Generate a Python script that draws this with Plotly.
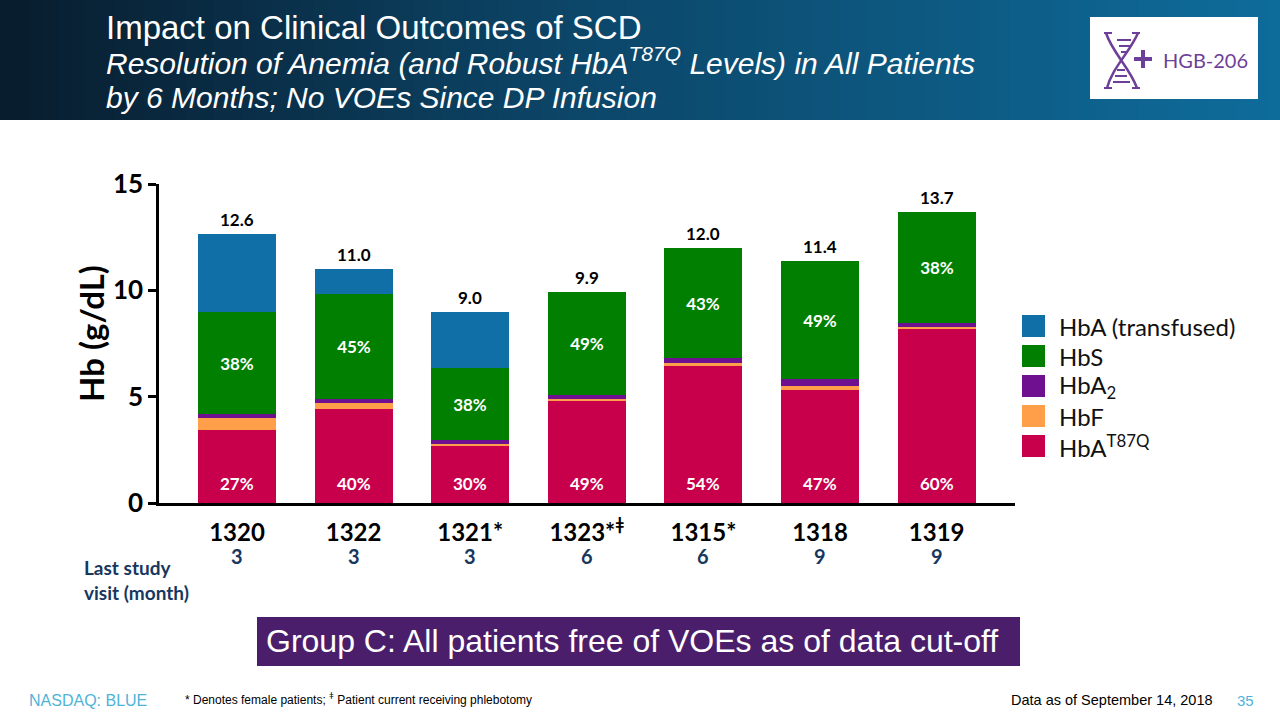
import plotly.graph_objects as go

# ---------------- data ----------------
patients = ["1320", "1322", "1321*", "1323*<sup>ǂ</sup>", "1315*", "1318", "1319"]
last_visit_month = ["3", "3", "3", "6", "6", "9", "9"]
totals = ["12.6", "11.0", "9.0", "9.9", "12.0", "11.4", "13.7"]

hba_t87q = [3.45, 4.40, 2.70, 4.84, 6.44, 5.30, 8.22]
hbf = [0.55, 0.30, 0.08, 0.07, 0.16, 0.22, 0.04]
hba2 = [0.20, 0.17, 0.16, 0.16, 0.22, 0.30, 0.22]
hbs = [4.80, 4.95, 3.42, 4.83, 5.18, 5.58, 5.22]
hba_transfused = [3.65, 1.18, 2.64, 0, 0, 0, 0]

pct_t87q = ["27%", "40%", "30%", "49%", "54%", "47%", "60%"]
pct_hbs = ["38%", "45%", "38%", "49%", "43%", "49%", "38%"]

series_names = ["HbA<sup>T87Q</sup>", "HbF", "HbA<sub>2</sub>", "HbS", "HbA (transfused)"]
series_values = [hba_t87q, hbf, hba2, hbs, hba_transfused]
series_colors = ["#C8004B", "#FF9F4A", "#6E108F", "#007F00", "#0F6FA6"]

# ---------------- geometry helpers ----------------
W, H = 1280, 720
L, R, T, B = 159, 1015, 184, 503


def px(x):
    return (x - L) / (R - L)


def py(y):
    return (B - y) / (B - T)


SANS = "Liberation Sans, Arial, sans-serif"
CAL = "Lato, Open Sans, sans-serif"

fig = go.Figure()
xs = list(range(len(patients)))

for name, vals, col in zip(series_names, series_values, series_colors):
    kw = {}
    if name == "HbS":
        kw = dict(text=pct_hbs, textposition="inside", insidetextanchor="middle",
                  textfont=dict(color="white", size=17, family=CAL, weight="bold"))
    fig.add_trace(go.Bar(x=xs, y=vals, name=name, marker=dict(color=col, line=dict(width=0)),
                         width=0.67, showlegend=False, hoverinfo="y+name", **kw))

shapes = []
ann = []


def note(x, y, text, size, color, family=CAL, xanchor="left", weight="normal", **kw):
    ann.append(dict(x=x, y=y, xref=kw.pop("xref", "paper"), yref=kw.pop("yref", "paper"),
                    text=text, showarrow=False, xanchor=xanchor, yanchor=kw.pop("yanchor", "middle"),
                    font=dict(size=size, color=color, family=family, weight=weight), **kw))


# T87Q percent labels near bar base
for i, p in enumerate(pct_t87q):
    note(i, 0, p, 17, "white", xanchor="center", weight="bold", xref="x", yref="y", yshift=20)

# totals above bars
for i, t in enumerate(totals):
    tot = sum(v[i] for v in series_values)
    note(i, tot, t, 17, "black", xanchor="center", weight="bold", xref="x", yref="y",
         yanchor="bottom", yshift=2)

# y axis title
note(px(91), py(334), "Hb (g/dL)", 33, "black", xanchor="center", weight="bold", textangle=-90)

# last study visit row
for i, m in enumerate(last_visit_month):
    note(i, py(556), m, 20, "#17375E", xanchor="center", weight="bold", xref="x")
note(px(82), py(580), "Last study<br>visit (month)", 19, "#17375E", weight="bold", align="left")

# header gradient band
stops = [(0.0, (8, 28, 45)), (0.45, (12, 70, 105)), (1.0, (14, 108, 155))]


def grad(t):
    for (a, ca), (b, cb) in zip(stops[:-1], stops[1:]):
        if a <= t <= b:
            f = (t - a) / (b - a)
            return "rgb(%d,%d,%d)" % tuple(round(ca[k] + (cb[k] - ca[k]) * f) for k in range(3))
    return "rgb(%d,%d,%d)" % stops[-1][1]


N = 90
for i in range(N):
    x0 = i * W / N
    x1 = (i + 1) * W / N + 1
    shapes.append(dict(type="rect", xref="paper", yref="paper", x0=px(x0), x1=px(x1),
                       y0=py(120), y1=py(0), fillcolor=grad((i + 0.5) / N), line=dict(width=0),
                       layer="below"))

# title
note(px(104), py(27), "Impact on Clinical Outcomes of SCD", 33, "white", family=SANS)
note(px(104), py(61),
     "<i>Resolution of Anemia (and Robust HbA<sup>T87Q</sup> Levels) in All Patients</i>",
     30, "white", family=SANS)
note(px(104), py(97), "<i>by 6 Months; No VOEs Since DP Infusion</i>", 30, "white", family=SANS)

# logo box
shapes.append(dict(type="rect", xref="paper", yref="paper", x0=px(1090), x1=px(1258),
                   y0=py(99), y1=py(17), fillcolor="white", line=dict(width=0)))
LOGO = "#6E3F99"


def P(x, y):
    return "%f,%f" % (px(x), py(y))


shapes.append(dict(type="path", xref="paper", yref="paper", line=dict(color=LOGO, width=2.5),
                   path="M%s C%s %s %s" % (P(1106, 33), P(1112, 52), P(1130, 68), P(1137, 88))))
shapes.append(dict(type="path", xref="paper", yref="paper", line=dict(color=LOGO, width=2.5),
                   path="M%s C%s %s %s" % (P(1138, 33), P(1130, 52), P(1112, 68), P(1107, 88))))
for (xa, xb, yy) in [(1104, 1112, 33), (1132, 1140, 33), (1104, 1112, 88), (1132, 1140, 88),
                     (1117, 1131, 40), (1119, 1130, 46), (1121, 1128, 52),
                     (1117, 1125, 70), (1115, 1127, 76), (1113, 1130, 82)]:
    shapes.append(dict(type="line", xref="paper", yref="paper", x0=px(xa), x1=px(xb),
                       y0=py(yy), y1=py(yy), line=dict(color=LOGO, width=2)))
shapes.append(dict(type="line", xref="paper", yref="paper", x0=px(1134), x1=px(1152),
                   y0=py(59), y1=py(59), line=dict(color=LOGO, width=4)))
shapes.append(dict(type="line", xref="paper", yref="paper", x0=px(1143), x1=px(1143),
                   y0=py(50), y1=py(68), line=dict(color=LOGO, width=4)))
note(px(1161), py(60), "HGB-206", 20, LOGO)

# custom legend (top to bottom: reversed stack order)
leg_top = 315
for k, (name, col) in enumerate(reversed(list(zip(series_names, series_colors)))):
    y0 = leg_top + k * 30
    shapes.append(dict(type="rect", xref="paper", yref="paper", x0=px(1022), x1=px(1045),
                       y0=py(y0 + 22), y1=py(y0), fillcolor=col, line=dict(width=0)))
    note(px(1057), py(y0 + 11), name, 24, "#111111")

# purple banner
shapes.append(dict(type="rect", xref="paper", yref="paper", x0=px(257), x1=px(1020),
                   y0=py(666), y1=py(617), fillcolor="#4A1E6B", line=dict(width=0)))
note(px(264), py(641), "Group C: All patients free of VOEs as of data cut-off", 32, "white",
     family=SANS)

# footer
note(px(27), py(700), "NASDAQ: BLUE", 16, "#4FB3D9", family=SANS)
note(px(183), py(699), "* Denotes female patients; <sup>ǂ</sup> Patient current receiving phlebotomy",
     12, "black", family=SANS)
note(px(1215), py(700), "Data as of September 14, 2018", 14.5, "black", family=SANS, xanchor="right")
note(px(1235), py(700), "35", 15, "#4FB3D9", family=SANS)

fig.update_layout(
    width=W, height=H,
    margin=dict(l=L, r=W - R, t=T, b=H - B, pad=0),
    paper_bgcolor="white", plot_bgcolor="white",
    barmode="stack", bargap=0,
    showlegend=False,
    shapes=shapes, annotations=ann,
    xaxis=dict(range=[-0.669, 6.672], tickvals=xs, ticktext=patients, showgrid=False,
               zeroline=False, showline=True, linecolor="black", linewidth=2.5, ticks="",
               ticklabelstandoff=6,
               tickfont=dict(size=24, color="black", family=CAL, weight="bold")),
    yaxis=dict(range=[0, 15], tickvals=[0, 5, 10, 15], showgrid=False, zeroline=False,
               showline=True, linecolor="black", linewidth=2.5, ticks="outside", ticklen=8,
               tickwidth=2.5, tickcolor="black",
               tickfont=dict(size=26, color="black", family=CAL, weight="bold")),
)

fig.write_html("out.html", config={"displayModeBar": False},
               post_script="document.body.style.margin='0px';")
